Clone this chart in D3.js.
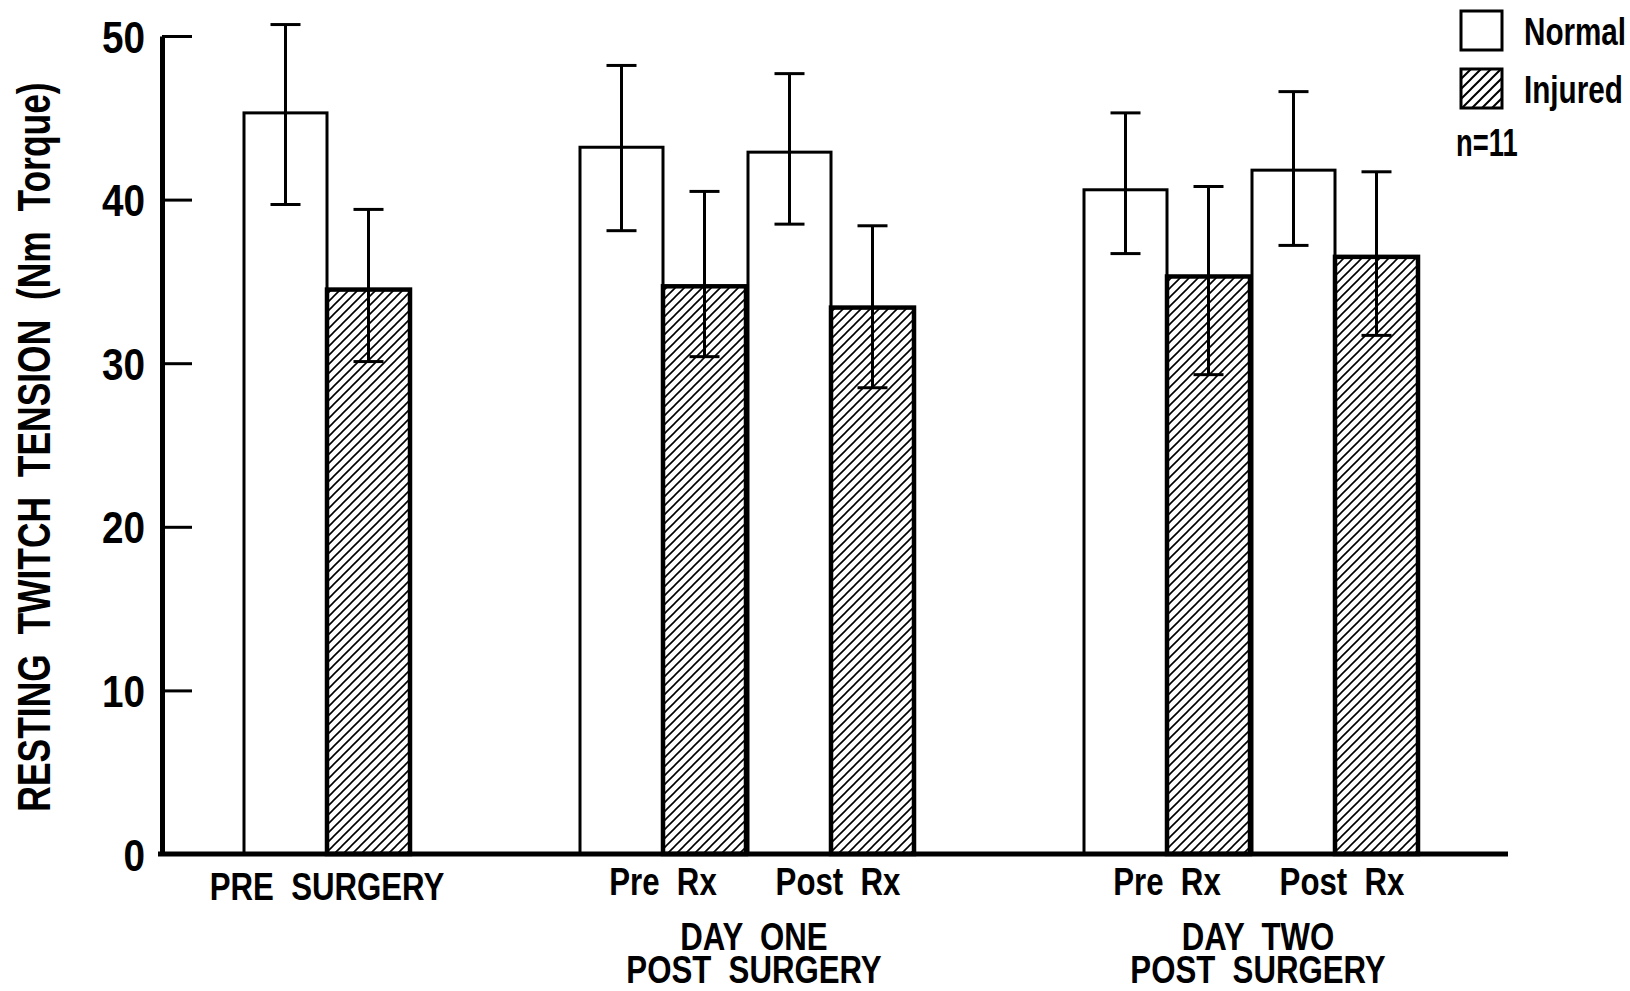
<!DOCTYPE html>
<html>
<head>
<meta charset="utf-8">
<script src="https://cdn.jsdelivr.net/npm/d3@7"></script>
<style>
  body { margin: 0; background: #fff; }
  text { font-family: "Liberation Sans", Arial, sans-serif; font-weight: bold; fill: #000; }
</style>
</head>
<body>
<script>

// conditions along the x axis, and the day each one belongs to
var conditions = ["PRE SURGERY", "Pre Rx", "Post Rx", "Pre Rx", "Post Rx"];
var days = ["", "DAY ONE", "DAY ONE", "DAY TWO", "DAY TWO"];
var dayLines = {"DAY ONE": ["DAY ONE", "POST SURGERY"], "DAY TWO": ["DAY TWO", "POST SURGERY"]};

var series = ["Normal", "Injured"];

// means and error bar ends (Nm torque)
var normalMean = [45.3, 43.2, 42.9, 40.6, 41.8];
var normalHi   = [50.7, 48.2, 47.7, 45.3, 46.6];
var normalLo   = [39.7, 38.1, 38.5, 36.7, 37.2];
var injuredMean = [34.5, 34.7, 33.4, 35.3, 36.5];
var injuredHi   = [39.4, 40.5, 38.4, 40.8, 41.7];
var injuredLo   = [30.1, 30.4, 28.5, 29.3, 31.7];

var yTicks = [0, 10, 20, 30, 40, 50];
var yLabel = "RESTING  TWITCH  TENSION  (Nm  Torque)";
var sampleNote = "n=11";

var width = 1630, height = 991;

var svg = d3.select("body").append("svg")
    .attr("width", width)
    .attr("height", height);

svg.append("rect").attr("width", width).attr("height", height).attr("fill", "#fff");

// the original lettering is a condensed face: place text with a horizontal squeeze
function label(parent, tx, ty, k, size, str, anchor) {
    return parent.append("text")
        .attr("transform", "translate(" + tx + "," + ty + ") scale(" + k + ",1)")
        .attr("text-anchor", anchor || "start")
        .attr("font-size", size)
        .style("white-space", "pre")
        .text(str);
}

var defs = svg.append("defs");
function hatch(id, s, w) {
    defs.append("pattern")
        .attr("id", id)
        .attr("patternUnits", "userSpaceOnUse")
        .attr("width", s).attr("height", s)
        .append("path")
        .attr("d", "M" + (-s/4) + "," + (s/4) + "l" + (s/2) + "," + (-s/2) +
                   "M0," + s + "l" + s + "," + (-s) +
                   "M" + (s*3/4) + "," + (s*5/4) + "l" + (s/2) + "," + (-s/2))
        .attr("stroke", "#000")
        .attr("stroke-width", w);
}
hatch("hatch", 9, 1.6);
hatch("hatchLegend", 10, 2);

var y = d3.scaleLinear().domain([0, 50]).range([854, 36]);

// slot index: one step inside a day, two steps between days
var slots = [];
var s = 0;
conditions.forEach(function(c, i) {
    if (i > 0) s += (days[i] == days[i-1]) ? 1 : 2;
    slots.push(s);
});
var x = d3.scaleLinear().domain([0, d3.max(slots)]).range([328, 1336]);
var xInner = d3.scaleBand().domain(series).range([-84, 82]);

var rows = conditions.map(function(c, i) {
    return {i: i, label: c, day: days[i],
        Normal: {mean: normalMean[i], hi: normalHi[i], lo: normalLo[i]},
        Injured: {mean: injuredMean[i], hi: injuredHi[i], lo: injuredLo[i]}};
});

// bars
series.forEach(function(k) {
    svg.selectAll(".bar" + k)
        .data(rows)
        .enter().append("rect")
        .attr("class", "bar" + k)
        .attr("x", function(d) { return x(slots[d.i]) + xInner(k); })
        .attr("y", function(d) { return y(d[k].mean); })
        .attr("width", xInner.bandwidth())
        .attr("height", function(d) { return y(0) - y(d[k].mean); })
        .attr("fill", k == "Normal" ? "#fff" : "url(#hatch)")
        .attr("stroke", "#000")
        .attr("stroke-width", k == "Normal" ? 3 : 4.5);
});

// error bars
series.forEach(function(k) {
    var g = svg.selectAll(".err" + k)
        .data(rows)
        .enter().append("g")
        .attr("class", "err" + k)
        .attr("transform", function(d) {
            return "translate(" + (x(slots[d.i]) + xInner(k) + xInner.bandwidth()/2) + ",0)";
        })
        .attr("stroke", "#000")
        .attr("stroke-width", 3);
    g.append("line")
        .attr("y1", function(d) { return y(d[k].hi); })
        .attr("y2", function(d) { return y(d[k].lo); });
    g.append("line")
        .attr("x1", -15).attr("x2", 15)
        .attr("y1", function(d) { return y(d[k].hi); })
        .attr("y2", function(d) { return y(d[k].hi); });
    g.append("line")
        .attr("x1", -15).attr("x2", 15)
        .attr("y1", function(d) { return y(d[k].lo); })
        .attr("y2", function(d) { return y(d[k].lo); });
});

// y axis, ticks pointing inwards
var yAxis = d3.axisLeft(y).tickValues(yTicks).tickSizeInner(-30).tickSizeOuter(0).tickPadding(17);
var ax = svg.append("g")
    .attr("transform", "translate(162,0)")
    .call(yAxis);
ax.select(".domain").attr("stroke-width", 5);
ax.selectAll(".tick line").attr("stroke-width", 3);
ax.selectAll(".tick text")
    .attr("font-size", 45)
    .attr("font-family", null)
    .attr("dy", null)
    .attr("y", 16)
    .attr("transform", "translate(-17,0) scale(0.86,1)")
    .attr("x", 0);

// baseline
svg.append("line")
    .attr("x1", 158).attr("x2", 1508)
    .attr("y1", y(0)).attr("y2", y(0))
    .attr("stroke", "#000")
    .attr("stroke-width", 5);

// axis title: squeezed along its own direction
svg.append("text")
    .attr("transform", "translate(50,447) rotate(-90) scale(0.77,1)")
    .attr("text-anchor", "middle")
    .attr("font-size", 46)
    .style("white-space", "pre")
    .text(yLabel);

// condition labels
rows.forEach(function(d) {
    var cx = x(slots[d.i]) + (d.label.indexOf("Post") == 0 ? 6 : -1);
    label(svg, cx, d.i == 0 ? 900 : 895, 0.8, 39, d.label.replace(" ", "  "), "middle");
});

// day labels under each pair
var dayNames = Object.keys(dayLines);
dayNames.forEach(function(dn) {
    var idx = d3.range(rows.length).filter(function(i) { return days[i] == dn; });
    var cx = d3.mean(idx, function(i) { return x(slots[i]); });
    dayLines[dn].forEach(function(t, j) {
        label(svg, cx + 6, 950 + j * 33, 0.8, 39, t.replace(" ", "  "), "middle");
    });
});

// legend
var legend = svg.selectAll(".legend")
    .data(series)
    .enter().append("g")
    .attr("class", "legend")
    .attr("transform", function(d, i) { return "translate(1461," + (11 + i * 58) + ")"; });
legend.append("rect")
    .attr("width", 41).attr("height", 39)
    .attr("fill", function(d) { return d == "Normal" ? "#fff" : "url(#hatchLegend)"; })
    .attr("stroke", "#000")
    .attr("stroke-width", 3);
legend.each(function(d) {
    label(d3.select(this), 63, 34, 0.78, 38, d);
});

label(svg, 1456, 156, 0.72, 38, sampleNote);

</script>
</body>
</html>
